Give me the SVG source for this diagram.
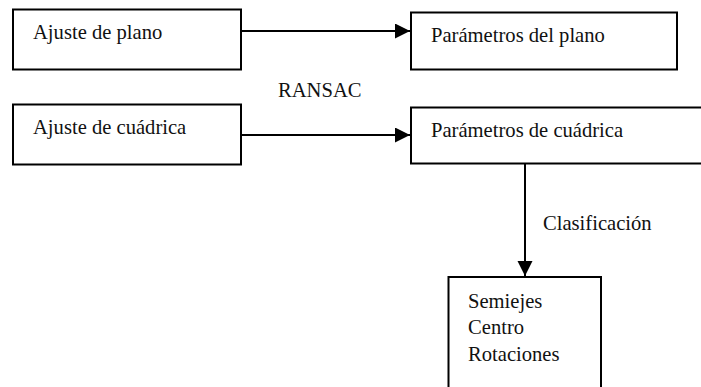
<svg xmlns="http://www.w3.org/2000/svg" width="701" height="387" viewBox="0 0 701 387">
<style>
.box{fill:#fff;stroke:#000;stroke-width:2}
.t{font-family:'Liberation Serif',serif;font-size:20.6px;fill:#111}
.c{stroke:#000;stroke-width:2;fill:none}
</style>
<defs>
<marker id="ah" markerUnits="userSpaceOnUse" markerWidth="16" markerHeight="16" refX="15" refY="7.5" orient="auto">
<path d="M0,0 L15,7.5 L0,15 Z" fill="#000"/>
</marker>
</defs>
<rect width="701" height="387" fill="#fff"/>
<g id="connectors">
<line class="c" x1="241" y1="31" x2="410" y2="31" marker-end="url(#ah)"/>
<line class="c" x1="241" y1="135" x2="410" y2="135" marker-end="url(#ah)"/>
<line class="c" x1="525" y1="164" x2="525" y2="276" marker-end="url(#ah)"/>
<text class="t" font-family="Liberation Serif" x="278" y="97">RANSAC</text>
<text class="t" font-family="Liberation Serif" x="543" y="230">Clasificación</text>
</g>
<g id="ajuste-plano">
<rect class="box" x="13" y="9.5" width="228" height="60"/>
<text class="t" font-family="Liberation Serif" x="33" y="39">Ajuste de plano</text>
</g>
<g id="parametros-plano">
<rect class="box" x="411" y="12.5" width="266" height="57"/>
<text class="t" font-family="Liberation Serif" x="431" y="42">Parámetros del plano</text>
</g>
<g id="ajuste-cuadrica">
<rect class="box" x="13" y="104.5" width="228" height="60"/>
<text class="t" font-family="Liberation Serif" x="33" y="134">Ajuste de cuádrica</text>
</g>
<g id="parametros-cuadrica">
<rect class="box" x="411" y="107.5" width="310" height="56"/>
<text class="t" font-family="Liberation Serif" x="431" y="137">Parámetros de cuádrica</text>
</g>
<g id="resultados">
<rect class="box" x="448.5" y="277" width="152.5" height="130"/>
<text class="t" font-family="Liberation Serif" x="468" y="307.5">Semiejes</text>
<text class="t" font-family="Liberation Serif" x="468" y="334">Centro</text>
<text class="t" font-family="Liberation Serif" x="468" y="360.5">Rotaciones</text>
</g>
</svg>
